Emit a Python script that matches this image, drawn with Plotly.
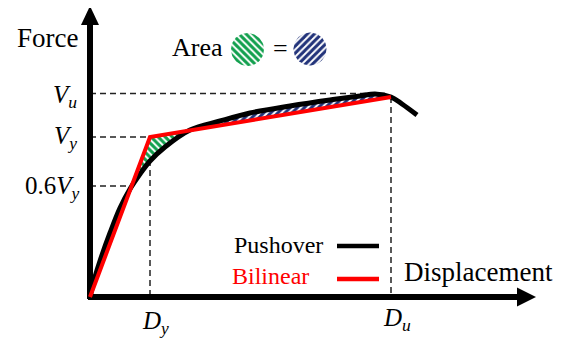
import numpy as np
import plotly.graph_objects as go

# ---- data (schematic units) ----
push_disp = [0, 5, 10, 20, 30, 40, 50, 60, 75, 100, 130, 160, 200, 240, 270, 285, 301, 312, 327]
push_force = [0, 20, 36, 64, 89, 108, 123, 136, 150, 167, 176, 184, 191, 197, 201, 203, 200, 193, 182]

Dy, Vy = 60, 160
Du, Vbu = 301, 200
Vu = 203.5
V06 = 111
bi_disp = [0, Dy, Du]
bi_force = [0, Vy, Vbu]

SERIF = "Liberation Serif, Times New Roman, serif"

# ---- hatched regions between curves ----
d = np.linspace(0, Du, 1200)
pf = np.interp(d, push_disp, push_force)
bf = np.interp(d, bi_disp, bi_force)
diff = bf - pf
green = (diff > 0) & (d > 5)
blue = (diff < 0) & (d > 80)


def region(mask):
    dd = d[mask]
    up = np.maximum(pf[mask], bf[mask])
    lo = np.minimum(pf[mask], bf[mask])
    return np.concatenate([dd, dd[::-1]]), np.concatenate([up, lo[::-1]])


gx, gy = region(green)
bx, by = region(blue)

fig = go.Figure()

GREEN = "#12a04e"
NAVY = "#22337a"
PAT = dict(bgcolor="white", size=5, solidity=0.6, fgopacity=1)

fig.add_trace(go.Scatter(x=gx, y=gy, mode="lines", line=dict(width=0), fill="toself",
                         fillcolor="white",
                         fillpattern=dict(shape="\\", fgcolor=GREEN, **PAT),
                         hoverinfo="skip", showlegend=False))
fig.add_trace(go.Scatter(x=bx, y=by, mode="lines", line=dict(width=0), fill="toself",
                         fillcolor="white",
                         fillpattern=dict(shape="/", fgcolor=NAVY, **PAT),
                         hoverinfo="skip", showlegend=False))

# circles in the "Area = " note
t = np.linspace(0, 2 * np.pi, 80)
for cx, cy, col, shp in [(157.5, 247.5, GREEN, "\\"), (220, 248, NAVY, "/")]:
    fig.add_trace(go.Scatter(x=cx + 16.5 * np.cos(t), y=cy + 16.5 * np.sin(t), mode="lines",
                             line=dict(width=0), fill="toself", fillcolor="white",
                             fillpattern=dict(shape=shp, fgcolor=col, **PAT),
                             hoverinfo="skip", showlegend=False))

# curves
fig.add_trace(go.Scatter(x=push_disp, y=push_force, mode="lines", line=dict(color="black", width=5, shape="spline"),
                         showlegend=False, hoverinfo="skip"))
fig.add_trace(go.Scatter(x=bi_disp, y=bi_force, mode="lines", line=dict(color="#ff0000", width=4),
                         showlegend=False, hoverinfo="skip"))

shapes = []
dash = dict(color="#222222", width=1.5, dash="6px,4px")
# dashed guides
shapes += [
    dict(type="line", x0=0, y0=Vu, x1=Du - 6, y1=Vu, line=dash, layer="below"),
    dict(type="line", x0=Du, y0=Vbu, x1=Du, y1=0, line=dash, layer="below"),
    dict(type="line", x0=0, y0=Vy, x1=Dy, y1=Vy, line=dash, layer="below"),
    dict(type="line", x0=Dy, y0=Vy - 3, x1=Dy, y1=0, line=dash, layer="below"),
    dict(type="line", x0=0, y0=V06, x1=40, y1=V06, line=dash, layer="below"),
]
# axes with arrows
shapes += [
    dict(type="line", x0=0, y0=-2, x1=0, y1=275, line=dict(color="black", width=6), layer="below"),
    dict(type="path", path="M -9,272 L 9,272 L 0,291 Z", fillcolor="black", line=dict(width=0)),
    dict(type="line", x0=-2, y0=0, x1=430, y1=0, line=dict(color="black", width=6), layer="below"),
    dict(type="path", path="M 427,-9.5 L 427,9.5 L 446,0 Z", fillcolor="black", line=dict(width=0)),
]
# legend samples
shapes += [
    dict(type="line", x0=247, y0=51, x1=289, y1=51, line=dict(color="black", width=4.5)),
    dict(type="line", x0=247, y0=18, x1=289, y1=18, line=dict(color="#ff0000", width=4.5)),
]

ann = []


def A(x, y, text, size, xanchor="center", color="black"):
    ann.append(dict(x=x, y=y, text=text, showarrow=False, xanchor=xanchor, yanchor="middle",
                    font=dict(family=SERIF, size=size, color=color)))


A(-43, 259, "Force", 27)
A(107, 250, "Area", 26)
A(190, 249, "=", 26)
A(-11, 201, "<i>V</i><sub><i>u</i></sub>", 25, "right")
A(-11, 160, "<i>V</i><sub><i>y</i></sub>", 25, "right")
A(-8, 110, "0.6<i>V</i><sub><i>y</i></sub>", 25, "right")
A(65, -25, "<i>D</i><sub><i>y</i></sub>", 25)
A(307, -22, "<i>D</i><sub><i>u</i></sub>", 25)
A(142, 52, "Pushover", 24, "left")
A(140, 21, "Bilinear", 24, "left", "#ff0000")
A(312, 25, "Displacement", 27, "left")

# the page body adds an 8px offset, so shift the ranges to land the origin at (90, 297)
OFF = 8
fig.update_layout(
    width=574, height=338, margin=dict(l=0, r=0, t=0, b=0),
    paper_bgcolor="white", plot_bgcolor="white",
    xaxis=dict(range=[-90 + OFF, 484 + OFF], visible=False, fixedrange=True),
    yaxis=dict(range=[-41 - OFF, 297 - OFF], visible=False, fixedrange=True),
    shapes=shapes, annotations=ann, showlegend=False,
)

fig.write_html("out.html")
